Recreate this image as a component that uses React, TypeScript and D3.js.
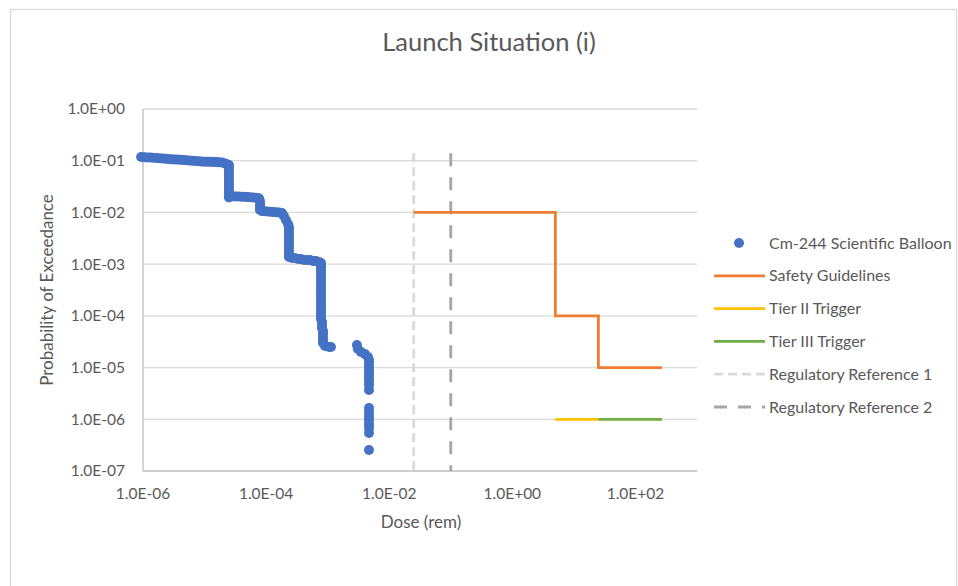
import React from 'react';
import * as d3 from 'd3';

// Cm-244 Scientific Balloon (dose in rem, probability of exceedance)
const scatterDose = [
  9.3e-7, 1.04e-6, 1.16e-6, 1.3e-6, 1.45e-6, 1.63e-6, 1.82e-6, 2.04e-6, 2.28e-6, 2.55e-6,
  2.85e-6, 3.19e-6, 3.57e-6, 3.99e-6, 4.47e-6, 5.0e-6, 5.59e-6, 6.25e-6, 7.0e-6, 7.82e-6,
  8.75e-6, 9.8e-6, 1.1e-5, 1.23e-5, 1.37e-5, 1.53e-5, 1.72e-5, 1.92e-5, 2.15e-5, 2.3e-5,
  2.49e-5, 2.49e-5, 2.49e-5, 2.49e-5, 2.49e-5, 2.49e-5, 2.49e-5, 2.49e-5, 2.49e-5, 2.49e-5, 2.49e-5, 2.49e-5,
  2.79e-5, 3.12e-5, 3.49e-5, 3.91e-5, 4.37e-5, 4.89e-5, 5.47e-5, 6.12e-5, 6.85e-5, 7.66e-5,
  7.96e-5, 7.96e-5, 7.96e-5, 7.96e-5,
  8.6e-5, 9.25e-5, 1.03e-4, 1.16e-4, 1.29e-4, 1.45e-4, 1.62e-4, 1.81e-4,
  1.95e-4, 2.1e-4, 2.27e-4,
  2.35e-4, 2.35e-4, 2.35e-4, 2.35e-4, 2.35e-4, 2.35e-4, 2.35e-4, 2.35e-4, 2.35e-4, 2.35e-4, 2.35e-4,
  2.63e-4, 2.94e-4, 3.29e-4, 3.69e-4, 4.12e-4, 4.61e-4, 5.16e-4, 5.78e-4, 6.46e-4, 7.23e-4, 7.8e-4,
  7.8e-4, 7.8e-4, 7.8e-4, 7.8e-4, 7.8e-4, 7.8e-4, 7.8e-4, 7.8e-4, 7.8e-4, 7.8e-4,
  7.8e-4, 7.8e-4, 7.8e-4, 7.8e-4, 7.8e-4, 7.8e-4, 7.8e-4, 7.8e-4, 7.8e-4,
  8.09e-4, 8.09e-4, 8.09e-4,
  8.4e-4, 8.4e-4, 8.4e-4, 8.4e-4, 8.4e-4,
  9.06e-4, 1.05e-3, 1.13e-3,
  2.99e-3, 3.1e-3, 3.47e-3, 4.04e-3, 4.52e-3,
  4.69e-3, 4.69e-3, 4.69e-3, 4.69e-3, 4.69e-3, 4.69e-3, 4.69e-3, 4.69e-3, 4.69e-3, 4.69e-3,
  4.69e-3, 4.69e-3, 4.69e-3, 4.69e-3, 4.69e-3, 4.69e-3, 4.69e-3, 4.69e-3,
];
const scatterProb = [
  0.118, 0.117, 0.116, 0.115, 0.114, 0.113, 0.112, 0.11, 0.109, 0.108,
  0.107, 0.106, 0.105, 0.104, 0.103, 0.102, 0.101, 0.1, 0.099, 0.098,
  0.097, 0.096, 0.096, 0.095, 0.095, 0.094, 0.093, 0.092, 0.088, 0.085,
  0.0826, 0.0722, 0.0632, 0.0553, 0.0484, 0.0423, 0.0371, 0.0324, 0.0284, 0.0248, 0.0217, 0.0195,
  0.0205, 0.0204, 0.0203, 0.0202, 0.02, 0.0198, 0.0196, 0.0194, 0.0192, 0.0188,
  0.0167, 0.0146, 0.0128, 0.0112,
  0.0106, 0.0105, 0.0104, 0.0103, 0.0102, 0.0101, 0.01, 0.0097,
  0.00852, 0.00713, 0.00597,
  0.00522, 0.00457, 0.004, 0.0035, 0.00306, 0.00268, 0.00234, 0.00205, 0.00179, 0.00157, 0.00137,
  0.00131, 0.00131, 0.00126, 0.00126, 0.0012, 0.0012, 0.0012, 0.00115, 0.00115, 0.0011, 0.00105,
  9.61e-4, 8.41e-4, 7.36e-4, 6.44e-4, 5.63e-4, 4.92e-4, 4.31e-4, 3.77e-4, 3.3e-4, 2.88e-4,
  2.52e-4, 2.21e-4, 1.93e-4, 1.69e-4, 1.48e-4, 1.29e-4, 1.13e-4, 9.91e-5, 8.67e-5,
  7.59e-5, 6.64e-5, 5.81e-5,
  5.08e-5, 4.45e-5, 3.89e-5, 3.4e-5, 2.98e-5,
  2.61e-5, 2.49e-5, 2.49e-5,
  2.72e-5, 2.28e-5, 2.0e-5, 1.82e-5, 1.6e-5,
  1.4e-5, 1.22e-5, 1.07e-5, 9.35e-6, 8.18e-6, 7.16e-6, 6.27e-6, 5.48e-6, 4.59e-6, 3.67e-6,
  1.65e-6, 1.38e-6, 1.15e-6, 9.66e-7, 8.07e-7, 6.76e-7, 5.41e-7, 2.54e-7,
];

const safetyDose = [0.025, 5, 5, 25, 25, 270];
const safetyProb = [1e-2, 1e-2, 1e-4, 1e-4, 1e-5, 1e-5];
const tier2Dose = [5, 25];
const tier2Prob = [1e-6, 1e-6];
const tier3Dose = [25, 270];
const tier3Prob = [1e-6, 1e-6];
const ref1Dose = [0.025, 0.025];
const ref1Prob = [0.14, 1e-7];
const ref2Dose = [0.1, 0.1];
const ref2Prob = [0.14, 1e-7];

const xTicks = [1e-6, 1e-4, 1e-2, 1, 1e2];
const yTicks = [1, 1e-1, 1e-2, 1e-3, 1e-4, 1e-5, 1e-6, 1e-7];

const legendLabels = [
  'Cm-244 Scientific Balloon',
  'Safety Guidelines',
  'Tier II Trigger',
  'Tier III Trigger',
  'Regulatory Reference 1',
  'Regulatory Reference 2',
];

const FONT = "Lato, 'Liberation Sans', sans-serif";
const TEXT = '#595959';

function fmt(v: number) {
  const e = Math.round(Math.log10(v));
  const s = e < 0 ? '-' : '+';
  return `1.0E${s}${String(Math.abs(e)).padStart(2, '0')}`;
}

export default function App() {
  const W = 958;
  const H = 586;
  const left = 143, right = 697, top = 109, bottom = 471;
  const x = d3.scaleLog().domain([1e-6, 1e3]).range([left, right]);
  const y = d3.scaleLog().domain([1e-7, 1]).range([bottom, top]);

  const line = d3
    .line<[number, number]>()
    .x((d) => x(d[0]))
    .y((d) => y(d[1]));
  const pairs = (a: number[], b: number[]) => a.map((v, i) => [v, b[i]] as [number, number]);

  const legendX = 714;
  const legendY0 = 243;
  const legendDy = 32.8;

  const legendItems = [
    { type: 'dot', color: '#4472C4' },
    { type: 'line', color: '#ED7D31' },
    { type: 'line', color: '#FFC000' },
    { type: 'line', color: '#70AD47' },
    { type: 'line', color: '#D9D9D9', dash: '9,5' },
    { type: 'line', color: '#A5A5A5', dash: '13,11' },
  ];

  return (
    <svg
      width={W}
      height={H}
      style={{ position: 'absolute', left: 0, top: 0, background: '#fff' }}
      fontFamily={FONT}
    >
      <rect x={0} y={0} width={W} height={H} fill="#fff" />
      <rect x={10.5} y={9.5} width={946} height={620} fill="none" stroke="#D9D9D9" strokeWidth={1.3} />

      <text x={489} y={51} textAnchor="middle" fontSize={25.5} fill={TEXT}>
        Launch Situation (i)
      </text>

      {/* gridlines */}
      {yTicks.slice(0, -1).map((t) => (
        <line key={'g' + t} x1={left} x2={right} y1={y(t)} y2={y(t)} stroke="#D9D9D9" strokeWidth={1.3} />
      ))}
      {/* axes */}
      <line x1={left} x2={right} y1={y(1e-7)} y2={y(1e-7)} stroke="#BFBFBF" strokeWidth={1.3} />
      <line x1={left} x2={left} y1={top} y2={bottom} stroke="#BFBFBF" strokeWidth={1.3} />

      {/* y tick labels */}
      {yTicks.map((t) => (
        <text key={'yl' + t} x={125} y={y(t)} dy="0.35em" textAnchor="end" fontSize={15.5} fill={TEXT}>
          {fmt(t)}
        </text>
      ))}
      {/* x tick labels */}
      {xTicks.map((t) => (
        <text key={'xl' + t} x={x(t)} y={499} textAnchor="middle" fontSize={15.5} fill={TEXT}>
          {fmt(t)}
        </text>
      ))}

      <text x={421} y={528} textAnchor="middle" fontSize={17} fill={TEXT}>
        Dose (rem)
      </text>
      <text
        transform={`translate(53,290) rotate(-90)`}
        textAnchor="middle"
        fontSize={17}
        fill={TEXT}
      >
        Probability of Exceedance
      </text>

      {/* reference lines */}
      <path d={line(pairs(ref1Dose, ref1Prob)) || ''} fill="none" stroke="#D9D9D9" strokeWidth={2.8} strokeDasharray="9,5" />
      <path d={line(pairs(ref2Dose, ref2Prob)) || ''} fill="none" stroke="#A5A5A5" strokeWidth={2.8} strokeDasharray="13,11" />

      {/* safety guidelines */}
      <path d={line(pairs(safetyDose, safetyProb)) || ''} fill="none" stroke="#ED7D31" strokeWidth={2.8} />
      <path d={line(pairs(tier2Dose, tier2Prob)) || ''} fill="none" stroke="#FFC000" strokeWidth={2.8} />
      <path d={line(pairs(tier3Dose, tier3Prob)) || ''} fill="none" stroke="#70AD47" strokeWidth={2.8} />

      {/* scatter */}
      {scatterDose.map((d, i) => (
        <circle key={'p' + i} cx={x(d)} cy={y(scatterProb[i])} r={5} fill="#4472C4" />
      ))}

      {/* legend */}
      {legendLabels.map((lab, i) => {
        const it = legendItems[i];
        const cy = legendY0 + i * legendDy;
        return (
          <g key={'lg' + i}>
            {it.type === 'dot' ? (
              <circle cx={legendX + 25} cy={cy} r={5} fill={it.color} />
            ) : (
              <line
                x1={legendX}
                x2={legendX + 51}
                y1={cy}
                y2={cy}
                stroke={it.color}
                strokeWidth={2.8}
                strokeDasharray={it.dash}
              />
            )}
            <text x={769} y={cy} dy="0.35em" fontSize={16} fill={TEXT}>
              {lab}
            </text>
          </g>
        );
      })}
    </svg>
  );
}
